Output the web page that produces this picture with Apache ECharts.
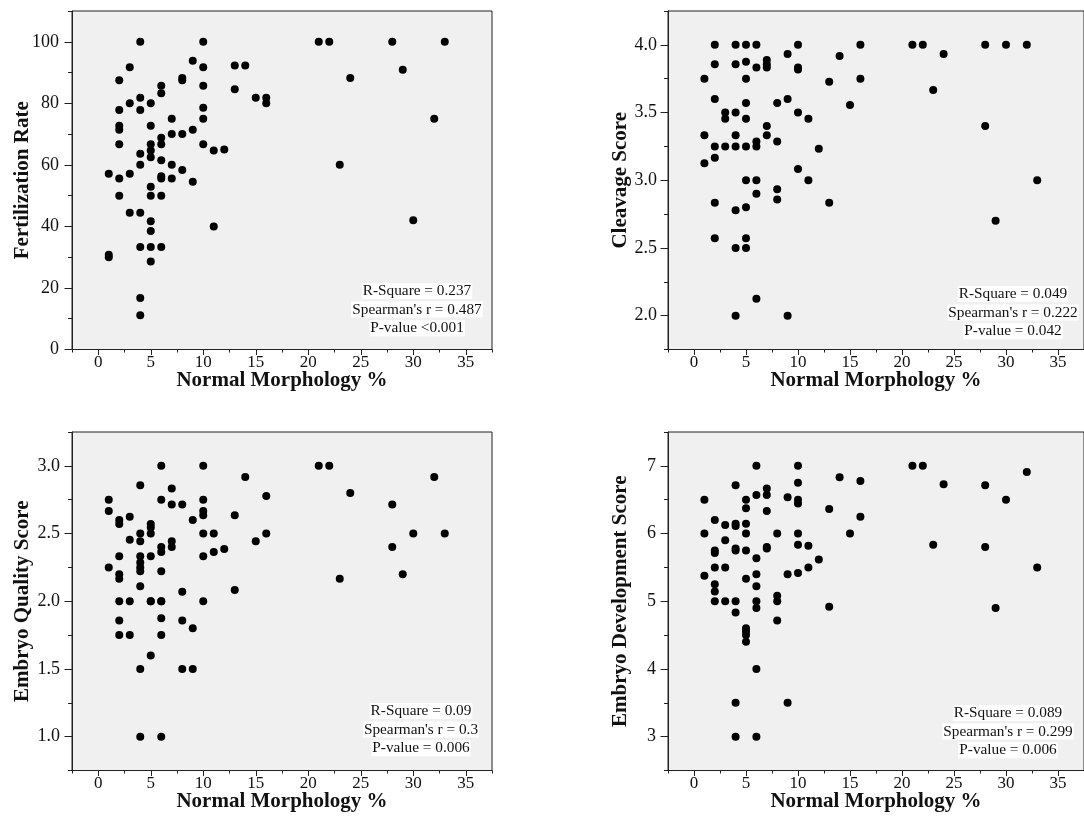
<!DOCTYPE html>
<html>
<head>
<meta charset="utf-8">
<script src="https://cdn.jsdelivr.net/npm/echarts@6/dist/echarts.min.js"></script>
<style>
  html, body { margin: 0; padding: 0; background: #fff; }
  #chart { width: 1084px; height: 834px; }
</style>
</head>
<body>
<div id="chart"></div>
<script>
// Normal sperm morphology (%) against four outcome measures

// Fertilization rate (%)
const morphFert = [1,1,1, 2,2,2,2,2,2,2, 3,3,3,3, 4,4,4,4,4,4,4,4,4,
  5,5,5,5,5,5,5,5,5,5,5, 6,6,6,6,6,6,6,6,6, 7,7,7,7, 8,8,8,8, 9,9,9,
  10,10,10,10,10,10, 11,11, 12, 13,13, 14, 15, 16,16, 21, 22, 23, 24, 28, 29, 30, 32, 33];
const fertRate = [57.1,30.8,30, 87.5,77.8,72.7,71.4,66.7,55.6,50, 91.7,80,57.1,44.4,
  100,81.8,77.8,63.6,60,44.4,33.3,16.7,11.1,
  80,72.7,66.7,64.7,62.5,52.9,50,41.7,38.5,33.3,28.6,
  85.7,83.3,68.8,66.7,61.5,56.3,55.6,50,33.3,
  75,70,60,55.6, 88.2,87.5,70,58.3, 93.8,71.4,54.5,
  100,91.7,85.7,78.6,75,66.7, 64.7,40, 65, 92.3,84.6, 92.3, 81.8, 81.8,80,
  100, 100, 60, 88.2, 100, 90.9, 42, 75, 100];

// Cleavage score
const morphCleav = [1,1,1, 2,2,2,2,2,2,2, 3,3,3, 4,4,4,4,4,4,4,4,
  5,5,5,5,5,5,5,5,5,5, 6,6,6,6,6,6,6, 7,7,7,7,7, 8,8,8,8, 9,9,9,
  10,10,10,10,10, 11,11, 12, 13,13, 14, 15, 16,16, 21, 22, 23, 24, 28,28, 29, 30, 32, 33];
const cleavScore = [3.75,3.333,3.125, 4,3.857,3.6,3.25,3.167,2.833,2.571, 3.5,3.455,3.25,
  4,3.857,3.5,3.333,3.25,2.778,2.5,2,
  4,3.875,3.75,3.571,3.455,3.25,3,2.8,2.571,2.5,
  4,3.833,3.286,3.25,3,2.9,2.125,
  3.889,3.857,3.833,3.4,3.333, 3.571,3.286,2.933,2.857, 3.933,3.6,2,
  4,3.833,3.818,3.5,3.083, 3.455,3, 3.233, 3.727,2.833, 3.917, 3.556, 4,3.75,
  4, 4, 3.667, 3.933, 4,3.4, 2.7, 4, 4, 3];

// Embryo quality score
const morphQual = [1,1,1, 2,2,2,2,2,2,2,2, 3,3,3,3, 4,4,4,4,4,4,4,4,4,4,
  5,5,5,5,5,5,5, 6,6,6,6,6,6,6,6,6,6, 7,7,7,7, 8,8,8,8, 9,9,9,
  10,10,10,10,10,10,10, 11,11, 12, 13,13, 14, 15, 16,16,
  21, 22, 23, 24, 28,28, 29, 30, 32, 33];
const qualScore = [2.75,2.667,2.25, 2.6,2.571,2.333,2.2,2.167,2,1.857,1.75,
  2.625,2.455,2,1.75,
  2.857,2.5,2.444,2.333,2.286,2.25,2.222,2.111,1.5,1,
  2.571,2.545,2.5,2.333,2,1.6,2,
  3,2.75,2.4,2.364,2.222,2,1.875,1.75,1,2,
  2.833,2.714,2.444,2.4, 2.714,2.071,1.857,1.5, 2.6,1.8,1.5,
  3,2.75,2.667,2.636,2.5,2.333,2, 2.5,2.364, 2.385, 2.636,2.083, 2.917, 2.444, 2.778,2.5,
  3, 3, 2.167, 2.8, 2.714,2.4, 2.2, 2.5, 2.917, 2.5];

// Embryo development score
const morphDev = [1,1,1, 2,2,2,2,2,2,2, 3,3,3,3, 4,4,4,4,4,4,4,4,4,
  5,5,5,5,5,5,5,5,5,5, 6,6,6,6,6,6,6,6,6, 7,7,7,7,7, 8,8,8,8, 9,9,9,
  10,10,10,10,10,10,10, 11,11, 12, 13,13, 14, 15, 16,16,
  21, 22, 23, 24, 28,28, 29, 30, 32, 33];
const devScore = [6.5,6,5.375, 6.2,5.75,5.714,5.5,5.25,5.143,5, 6.125,5.9,5.5,5,
  6.714,6.143,6.111,5.778,5.75,5,4.833,3.5,3,
  6.5,6.375,6.143,6,5.75,5.333,4.6,4.556,4.5,4.4,
  7,6.571,5.636,5.4,5.222,5,4.9,4,3,
  6.667,6.571,6.333,5.8,5.778, 6,5.083,5,4.714, 6.538,5.4,3.5,
  7,6.75,6.5,6.444,6,5.833,5.417, 5.818,5.5, 5.615, 6.364,4.917, 6.833, 6, 6.778,6.25,
  7, 7, 5.833, 6.727, 6.714,5.8, 4.9, 6.5, 6.909, 5.5];

// Axis tick labels
const morphTicks = [0, 5, 10, 15, 20, 25, 30, 35];
const fertTicks = [0, 20, 40, 60, 80, 100];
const cleavTicks = [2.0, 2.5, 3.0, 3.5, 4.0];
const qualTicks = [1.0, 1.5, 2.0, 2.5, 3.0];
const devTicks = [3, 4, 5, 6, 7];

// Correlation summaries
const fertStats = ['R-Square = 0.237', "Spearman's r = 0.487", 'P-value <0.001'];
const cleavStats = ['R-Square = 0.049', "Spearman's r = 0.222", 'P-value = 0.042'];
const qualStats = ['R-Square = 0.09', "Spearman's r = 0.3", 'P-value = 0.006'];
const devStats = ['R-Square = 0.089', "Spearman's r = 0.299", 'P-value = 0.006'];

const FONT = '"Liberation Serif", "Times New Roman", serif';
const INK = '#111';
const LINE = '#222';

const panels = [
  { x: morphFert, y: fertRate, name: 'Fertilization Rate', ticks: fertTicks, min: 0, max: 110, step: 10, dec: 0,
    left: 72, top: 11, gap: 39, labelMargin: 13, stats: fertStats, statPos: [417, 291] },
  { x: morphCleav, y: cleavScore, name: 'Cleavage Score', ticks: cleavTicks, min: 1.75, max: 4.25, step: 0.25, dec: 1,
    left: 668, top: 11, gap: 37, labelMargin: 11, stats: cleavStats, statPos: [1013, 294] },
  { x: morphQual, y: qualScore, name: 'Embryo Quality Score', ticks: qualTicks, min: 0.75, max: 3.25, step: 0.25, dec: 1,
    left: 72, top: 432, gap: 39, labelMargin: 12, stats: qualStats, statPos: [421, 711] },
  { x: morphDev, y: devScore, name: 'Embryo Development Score', ticks: devTicks, min: 2.5, max: 7.5, step: 0.5, dec: 0,
    left: 668, top: 432, gap: 37, labelMargin: 12, stats: devStats, statPos: [1008, 713] }
];

const GW = 420, GH = 338.5;
const grids = [], xAxes = [], yAxes = [], series = [], graphics = [];
const titleStyle = { fontFamily: FONT, fontWeight: 'bold', fontSize: 21, color: INK };

panels.forEach((p, i) => {
  grids.push({
    left: p.left, top: p.top, width: GW, height: GH,
    show: true, backgroundColor: '#f0f0f0', borderColor: LINE, borderWidth: 1
  });
  // x axis: short ticks every 2.5, labels every 5
  xAxes.push({
    type: 'value', gridIndex: i, position: 'bottom', min: -2.5, max: 37.5, interval: 2.5,
    axisLine: { show: true, onZero: false, lineStyle: { color: LINE, width: 1 } },
    axisTick: { show: true, length: 3, lineStyle: { color: LINE } },
    splitLine: { show: false },
    axisLabel: { customValues: morphTicks, margin: 4.5, fontFamily: FONT, fontSize: 17, color: INK },
    name: 'Normal Morphology %', nameLocation: 'middle', nameGap: 20.5, nameMoveOverlap: false,
    nameTextStyle: titleStyle
  });
  // companion x axis carrying the longer major ticks
  xAxes.push({
    type: 'value', gridIndex: i, position: 'bottom', min: -2.5, max: 37.5, interval: 2.5,
    axisLine: { show: false, onZero: false },
    axisTick: { show: true, length: 5.5, customValues: morphTicks, lineStyle: { color: LINE } },
    axisLabel: { show: false }, splitLine: { show: false }
  });
  yAxes.push({
    type: 'value', gridIndex: i, position: 'left', min: p.min, max: p.max, interval: p.step,
    axisLine: { show: true, onZero: false, lineStyle: { color: LINE, width: 1 } },
    axisTick: { show: true, length: 4, lineStyle: { color: LINE } },
    splitLine: { show: false },
    axisLabel: {
      customValues: p.ticks, margin: p.labelMargin,
      formatter: v => Number(v).toFixed(p.dec),
      fontFamily: FONT, fontSize: 18, color: INK
    },
    name: p.name, nameLocation: 'middle', nameGap: p.gap, nameRotate: 90, nameMoveOverlap: false,
    nameTextStyle: titleStyle
  });
  // companion y axis carrying the longer major ticks
  yAxes.push({
    type: 'value', gridIndex: i, position: 'left', min: p.min, max: p.max, interval: p.step,
    axisLine: { show: false, onZero: false },
    axisTick: { show: true, length: 7.5, customValues: p.ticks, lineStyle: { color: LINE } },
    axisLabel: { show: false }, splitLine: { show: false }
  });
  series.push({
    type: 'scatter', xAxisIndex: i * 2, yAxisIndex: i * 2,
    symbol: 'circle', symbolSize: 8,
    itemStyle: { color: '#000', opacity: 1 },
    data: p.x.map((v, k) => [v, p.y[k]]),
    silent: true
  });
  p.stats.forEach((line, k) => {
    graphics.push({
      type: 'text', x: p.statPos[0], y: p.statPos[1] + k * 18.6, z: 100,
      style: {
        text: line, font: '15.3px ' + FONT, fill: INK,
        align: 'center', verticalAlign: 'middle',
        backgroundColor: '#fff', padding: [1, 1, 0, 1]
      }
    });
  });
});

const chart = echarts.init(document.getElementById('chart'), null, { renderer: 'canvas' });
chart.setOption({
  animation: false,
  backgroundColor: '#fff',
  grid: grids,
  xAxis: xAxes,
  yAxis: yAxes,
  series: series,
  graphic: graphics
});
</script>
</body>
</html>
